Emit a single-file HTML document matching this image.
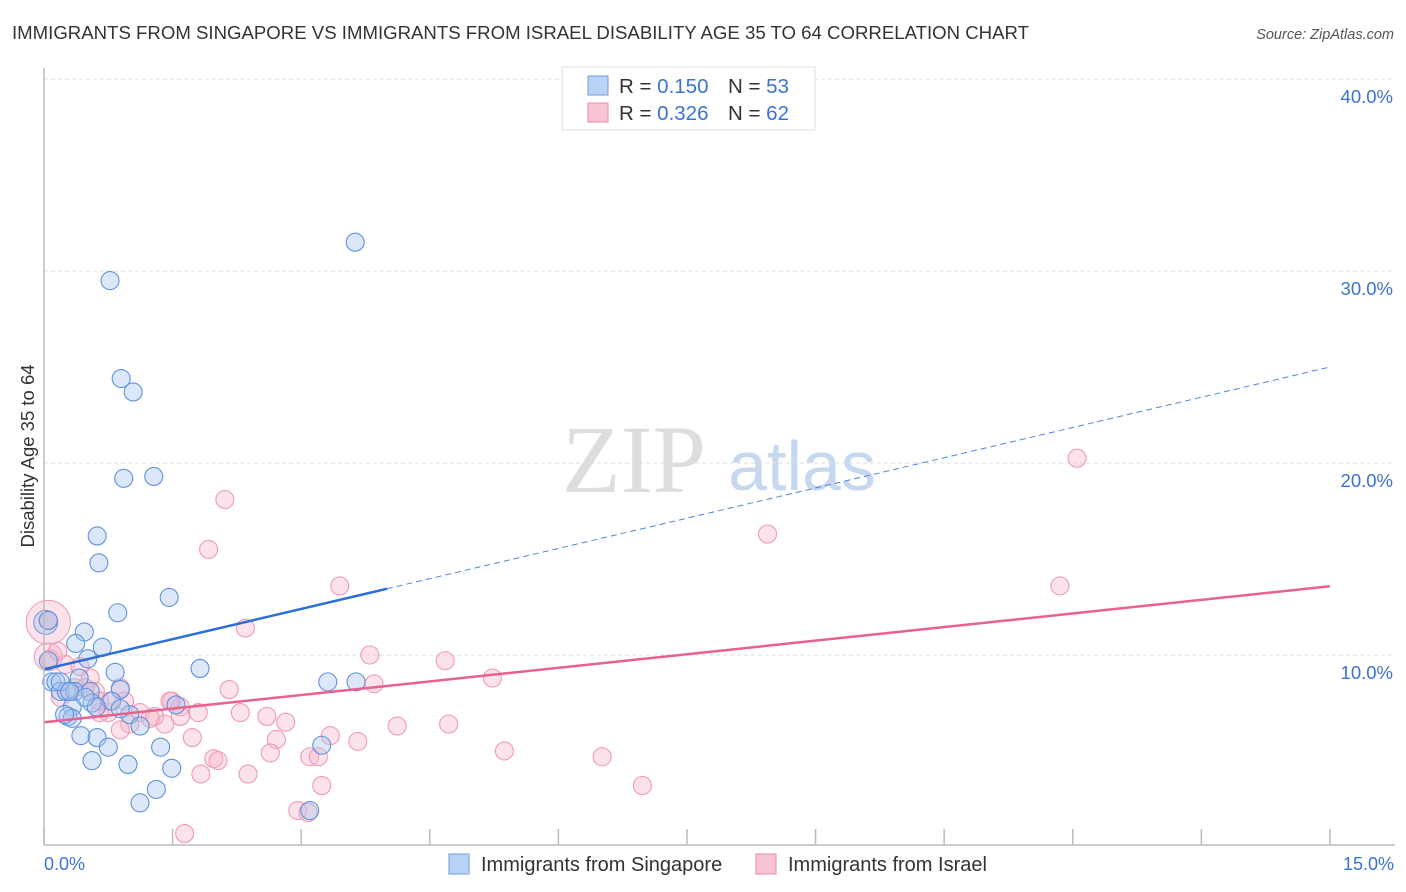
<!DOCTYPE html>
<html><head><meta charset="utf-8"><style>
body{margin:0;background:#fff;font-family:"Liberation Sans",sans-serif}
#wrap{position:relative;width:1406px;height:892px;overflow:hidden}
</style></head><body>
<div id="wrap">
<svg id="svg" width="1406" height="892" xmlns="http://www.w3.org/2000/svg">
<text x="12" y="39" font-size="18.6" fill="#333" textLength="1017" lengthAdjust="spacingAndGlyphs">IMMIGRANTS FROM SINGAPORE VS IMMIGRANTS FROM ISRAEL DISABILITY AGE 35 TO 64 CORRELATION CHART</text>
<text x="1394" y="39" font-size="14.5" fill="#555" font-style="italic" text-anchor="end">Source: ZipAtlas.com</text>
<text x="634" y="492" font-size="96" fill="#ddd" font-family="Liberation Serif" text-anchor="middle">ZIP</text>
<text x="802" y="490" font-size="70" fill="#c5d8f0" text-anchor="middle">atlas</text>
<text transform="translate(34,456) rotate(-90)" font-size="18.5" fill="#333" text-anchor="middle">Disability Age 35 to 64</text>
<g id="grid"></g><g id="pts"></g><g id="lines"></g>
<line x1="44" y1="68" x2="44" y2="845" stroke="#bbb" stroke-width="1.5"/>
<line x1="44" y1="845" x2="1395" y2="845" stroke="#bbb" stroke-width="1.5"/>
<text x="44" y="870" font-size="18" fill="#3b73d1">0.0%</text>
<text x="1394" y="870" font-size="18" fill="#3b73d1" text-anchor="end">15.0%</text>
<g>
<rect x="449" y="854" width="20" height="20" fill="#b9d3f5" stroke="#6f9de0"/>
<text x="481" y="871" font-size="20" fill="#333">Immigrants from Singapore</text>
<rect x="756" y="854" width="20" height="20" fill="#f9c5d5" stroke="#e98aab"/>
<text x="788" y="871" font-size="20" fill="#333">Immigrants from Israel</text>
</g>
<g>
<rect x="562" y="67" width="253" height="63" fill="#fff" stroke="#ddd"/>
<rect x="588" y="76" width="20" height="19" fill="#b9d3f5" stroke="#6f9de0"/>
<text x="619" y="93" font-size="20.5" fill="#333">R = <tspan fill="#3b73d1">0.150</tspan><tspan x="728">N = </tspan><tspan fill="#3b73d1">53</tspan></text>
<rect x="588" y="103" width="20" height="19" fill="#f9c5d5" stroke="#e98aab"/>
<text x="619" y="120" font-size="20.5" fill="#333">R = <tspan fill="#3b73d1">0.326</tspan><tspan x="728">N = </tspan><tspan fill="#3b73d1">62</tspan></text>
</g>
</svg>
</div>
<script>
const yTicks=[10,20,30,40];
const xTicks=[0,1.5,3,4.5,6,7.5,9,10.5,12,13.5,15];
const blueX=[3.63,0.77,0.90,1.04,0.93,1.28,0.62,0.64,1.46,0.86,0.47,0.37,0.68,0.51,1.82,0.83,0.41,0.09,0.14,0.19,0.26,0.36,0.54,0.89,0.56,0.33,0.79,1.00,0.28,0.33,0.43,0.62,0.75,1.36,3.31,3.64,3.24,0.56,0.98,1.49,1.31,1.12,3.10,0.05,0.05,0.19,0.30,0.61,1.54,0.48,0.24,0.89,1.12];
const blueY=[31.5,29.5,24.4,23.7,19.2,19.3,16.2,14.8,13.0,12.2,11.2,10.6,10.4,9.8,9.3,9.1,8.8,8.6,8.6,8.1,8.1,8.1,8.1,8.2,7.5,7.3,7.6,6.9,6.8,6.7,5.8,5.7,5.2,5.2,8.6,8.6,5.3,4.5,4.3,4.1,3.0,2.3,1.9,11.8,9.7,8.6,8.1,7.3,7.4,7.8,6.9,7.2,6.3];
const pinkX=[12.05,8.44,2.11,1.92,11.85,3.45,2.35,3.80,4.68,5.23,3.85,2.16,0.05,0.07,0.25,0.54,0.60,0.89,1.49,1.59,1.80,2.29,2.60,2.82,1.59,1.12,1.29,1.41,0.75,1.00,0.89,0.65,1.73,2.71,3.34,3.66,4.12,4.72,1.98,2.03,2.64,3.10,3.20,5.37,6.51,1.83,2.38,3.24,6.98,2.96,3.08,1.64,0.19,0.36,0.48,1.24,1.47,0.94,0.65,0.42,0.16,0.77];
const pinkY=[20.25,16.3,18.1,15.5,13.6,13.6,11.4,10.0,9.7,8.8,8.5,8.2,11.8,9.8,9.5,8.8,8.1,8.3,7.6,7.3,7.0,7.0,6.8,6.5,6.8,7.0,6.8,6.4,7.0,6.4,6.1,7.0,5.7,5.6,5.8,5.5,6.3,6.4,4.6,4.5,4.9,4.7,4.7,5.0,4.7,3.8,3.8,3.2,3.2,1.9,1.8,0.7,7.8,8.3,8.3,6.7,7.6,7.6,7.6,9.4,10.2,7.6];
const blueBig=[[0.02,11.7,12]], pinkBig=[[0.05,11.7,22],[0.05,9.9,14]];
const X=v=>44+v*85.73, Y=v=>847-v*19.2;
const NS="http://www.w3.org/2000/svg";
const mk=(t,a,p)=>{const e=document.createElementNS(NS,t);for(const k in a)e.setAttribute(k,a[k]);p.appendChild(e);return e;};
const grid=document.getElementById('grid');
yTicks.forEach(t=>{
  const l=mk('line',{x1:44,x2:1395,y1:Y(t),y2:Y(t),stroke:'#ddd','stroke-dasharray':'4,3'},grid);
  
  
  const tx=mk('text',{x:1393,y:Y(t)+24,'font-size':18.5,fill:'#3b73d1','text-anchor':'end'},grid);
  tx.textContent=t.toFixed(1)+'%';
  
  
});
xTicks.forEach(t=>{
  const l=mk('line',{x1:X(t),x2:X(t),y1:829,y2:845,stroke:'#bbb','stroke-width':1.5},grid);
  
  
});
const pts=document.getElementById('pts');
function dots(xs,ys,fill,stroke,name){xs.forEach((x,i)=>{
  const c=mk('circle',{cx:X(x),cy:Y(ys[i]),r:9,fill:fill,'fill-opacity':0.4,stroke:stroke,'stroke-width':1.1},pts);
  
  
});}
pinkBig.forEach(b=>{const c=mk('circle',{cx:X(b[0]),cy:Y(b[1]),r:b[2],fill:'#f7b6ca','fill-opacity':0.4,stroke:'#ef9ab6'},pts);
  
  });
blueBig.forEach(b=>{const c=mk('circle',{cx:X(b[0]),cy:Y(b[1]),r:b[2],fill:'#a8c6ef','fill-opacity':0.45,stroke:'#6f9de0'},pts);
  
  });
dots(pinkX,pinkY,'#f7b6ca','#ef9ab6','point-israel');
dots(blueX,blueY,'#a8c6ef','#5f92db','point-singapore');
const lines=document.getElementById('lines');
const blueTrend=[9.25,1.05], pinkTrend=[6.5,0.472];
const bl=(x)=>Y(blueTrend[0]+blueTrend[1]*x), pl=(x)=>Y(pinkTrend[0]+pinkTrend[1]*x);
let e=mk('line',{x1:X(0),y1:bl(0),x2:X(4.0),y2:bl(4.0),stroke:'#2c6fd6','stroke-width':2.5},lines);


e=mk('line',{x1:X(4.0),y1:bl(4.0),x2:X(15),y2:bl(15),stroke:'#4f86d8','stroke-width':1,'stroke-dasharray':'6,4'},lines);


e=mk('line',{x1:X(0),y1:pl(0),x2:X(15),y2:pl(15),stroke:'#e8618f','stroke-width':2.5},lines);


</script>
</body></html>
